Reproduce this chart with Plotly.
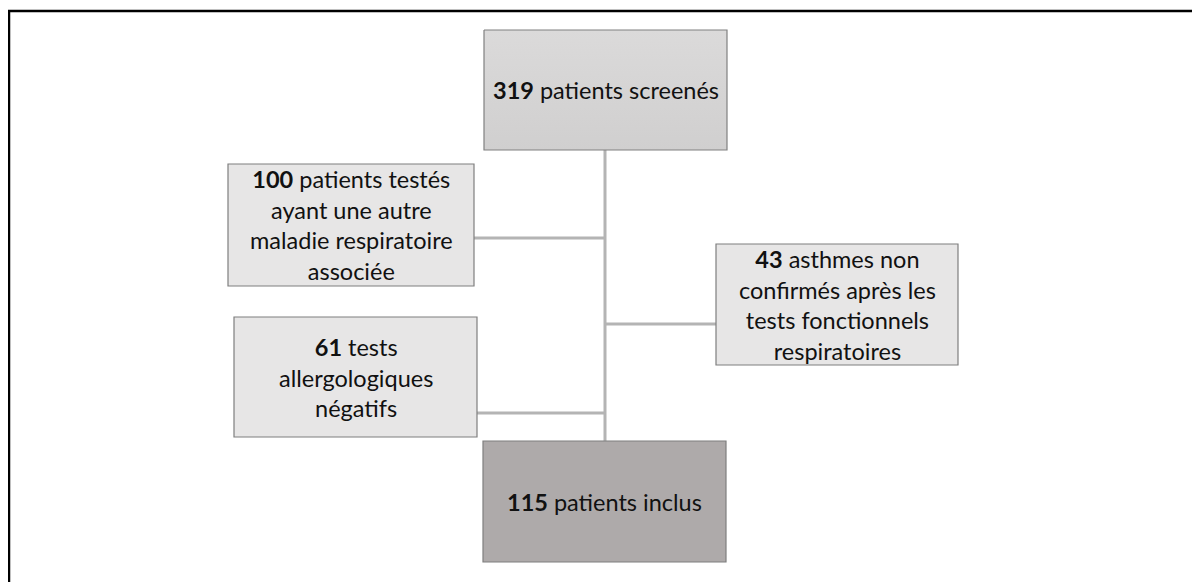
import plotly.graph_objects as go

# ---- data ----
counts = [319, 100, 43, 61, 115]
labels = [
    "patients screenés",
    "patients testés<br>ayant une autre<br>maladie respiratoire<br>associée",
    "asthmes non<br>confirmés après les<br>tests fonctionnels<br>respiratoires",
    "tests<br>allergologiques<br>négatifs",
    "patients inclus",
]
roles = ["start", "excluded", "excluded", "excluded", "end"]

# ---- layout (page pixel coordinates: x0, x1, y0, y1) ----
boxes = [
    (484, 727, 30, 150),
    (228, 474, 164, 286),
    (716, 958, 244, 365),
    (234, 477, 317, 437),
    (483, 726, 441, 562),
]
spine_x = 605
branch_y = [None, 238, 324, 413, None]
fills = {"start": "#d5d3d3", "excluded": "#e7e6e6", "end": "#aeaaaa"}

W, H = 1200, 582
OFF = 8  # page body margin
FONT = "Lato, Calibri, sans-serif"

fig = go.Figure()
shapes = []

# outer frame (open to right / bottom)
shapes.append(dict(type="path", path=f"M 9 {H+20} L 9 11 L {W+20} 11",
                   line=dict(color="black", width=2.5), layer="above"))

# spine
shapes.append(dict(type="line", x0=spine_x, x1=spine_x, y0=boxes[0][3], y1=boxes[4][2],
                   line=dict(color="#b4b4b4", width=3), layer="below"))

for i, (c, lab, role) in enumerate(zip(counts, labels, roles)):
    x0, x1, y0, y1 = boxes[i]
    if branch_y[i] is not None:
        bx = x1 if x1 < spine_x else x0
        shapes.append(dict(type="line", x0=bx, x1=spine_x, y0=branch_y[i], y1=branch_y[i],
                           line=dict(color="#b4b4b4", width=3), layer="below"))
    if role == "start":
        fig.add_trace(go.Scatter(
            x=[x0, x1, x1, x0, x0], y=[y0, y0, y1, y1, y0], mode="lines",
            fill="toself", line=dict(color="#808080", width=1.2),
            fillgradient=dict(type="vertical",
                              colorscale=[[0, "#d0cfcf"], [1, "#dbdada"]]),
            hoverinfo="skip", showlegend=False))
    else:
        shapes.append(dict(type="rect", x0=x0, x1=x1, y0=y0, y1=y1,
                           fillcolor=fills[role], line=dict(color="#7f7f7f", width=1.2),
                           layer="above"))
    fig.add_annotation(x=(x0 + x1) / 2, y=(y0 + y1) / 2,
                       text=f"<b>{c}</b> {lab}", showarrow=False,
                       font=dict(family=FONT, size=23.5, color="#111111"),
                       align="center", xanchor="center", yanchor="middle")

fig.update_layout(
    width=W, height=H,
    margin=dict(l=0, r=0, t=0, b=0),
    paper_bgcolor="white", plot_bgcolor="white",
    shapes=shapes,
    xaxis=dict(range=[OFF, W + OFF], visible=False, fixedrange=True),
    yaxis=dict(range=[H + OFF, OFF], visible=False, fixedrange=True),
    showlegend=False,
)

fig.write_html("out.html")
